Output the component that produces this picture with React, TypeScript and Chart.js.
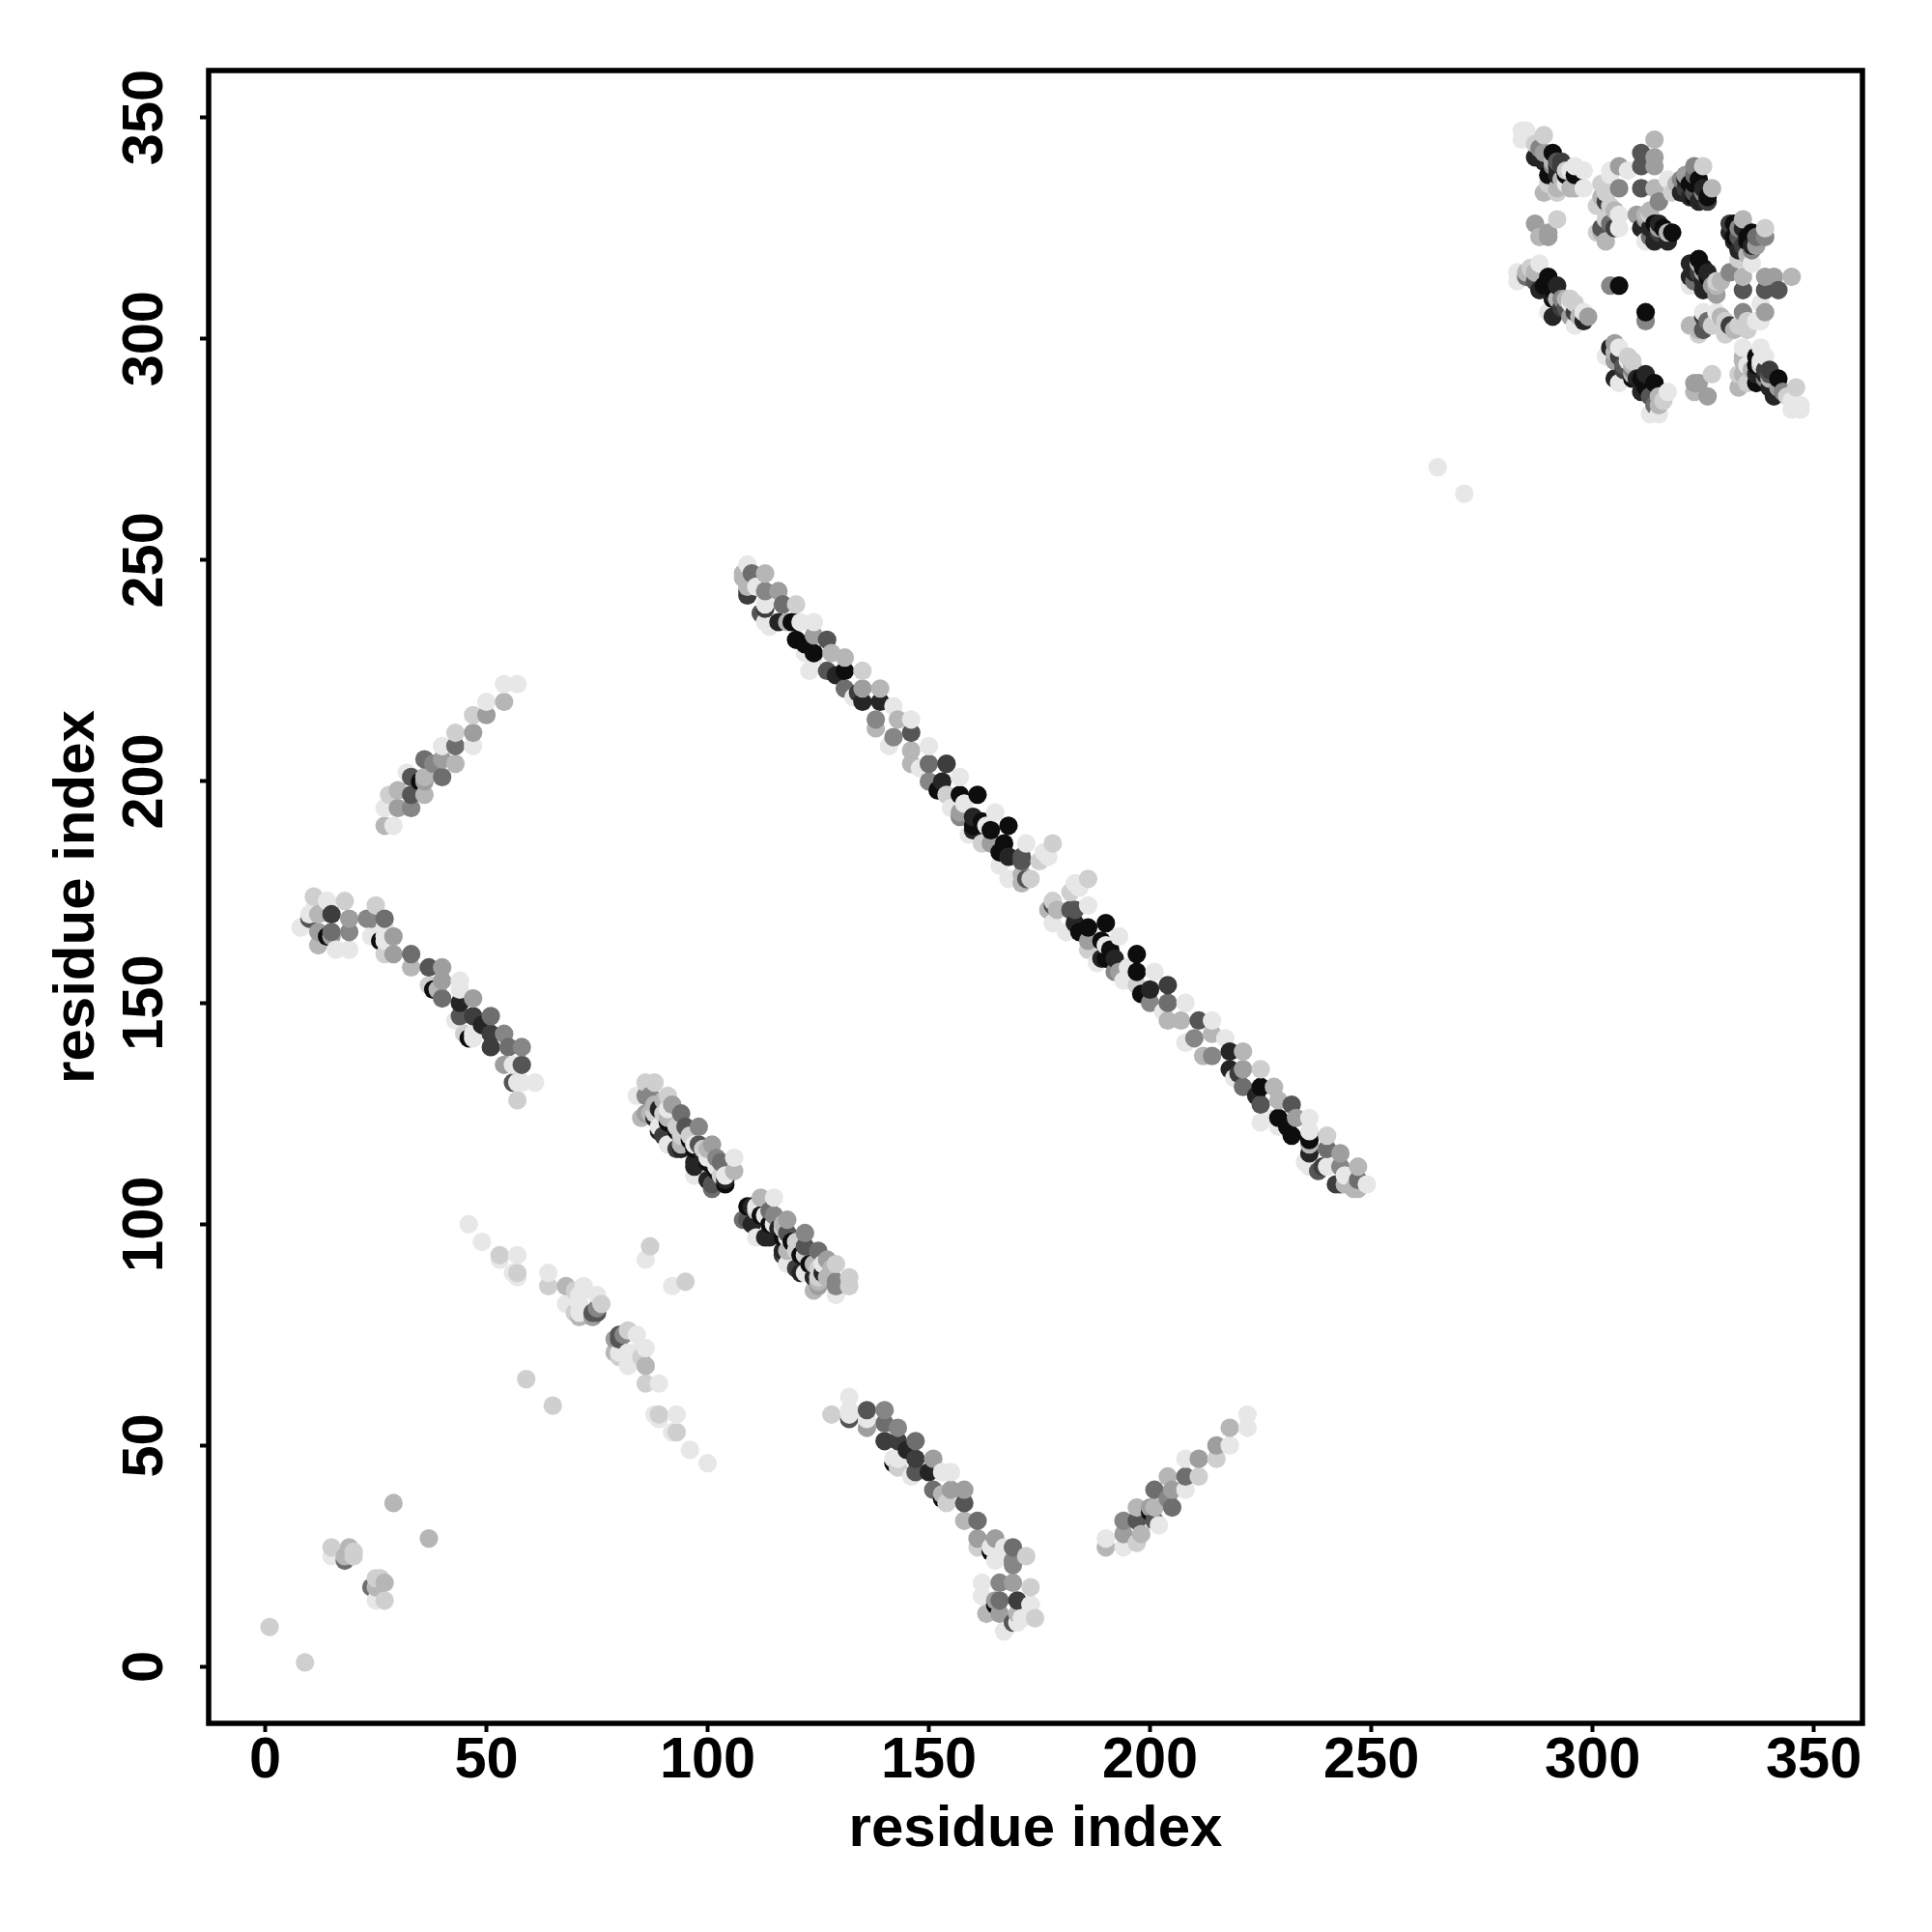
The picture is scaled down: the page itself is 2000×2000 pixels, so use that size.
import React, { useEffect, useRef } from "react";
import { Chart, registerables } from "chart.js";

Chart.register(...registerables);

// Each contact row: [residue a, residue b, contact level 1 (faint) .. 10 (strong)].
// The map is symmetric, so every pair is plotted at (a, b) and (b, a).
type Contact = [number, number, number];

const xTickValues = [0, 50, 100, 150, 200, 250, 300, 350];
const yTickValues = [0, 50, 100, 150, 200, 250, 300, 350];
const axisLabel = "residue index";

const sparseContacts: Contact[] = [
  [1, 9, 2], [29, 37, 3], [15, 27, 2], [15, 25, 1], [18, 24, 6], [18, 25, 3], [19, 27, 3], [20, 26, 2], [20, 25, 2],
  [59, 65, 2], [265, 271, 1], [87, 95, 2], [86, 92, 1],
];

const faintBand: Contact[] = [
  [46, 100, 1], [49, 96, 1], [53, 93, 2], [53, 92, 1], [57, 93, 1], [56, 89, 1], [57, 89, 2], [57, 88, 1],
  [64, 89, 1], [64, 86, 2], [68, 86, 3], [68, 82, 1], [72, 86, 1], [70, 85, 2], [71, 84, 1], [70, 80, 2],
  [71, 80, 1], [71, 82, 1], [75, 84, 1], [74, 80, 7], [75, 81, 5], [79, 74, 4], [79, 71, 3], [75, 80, 7], [76, 82, 2],
];

const upperStrip: Contact[] = [
  [54, 222, 1], [57, 222, 1], [50, 218, 1], [54, 218, 3], [47, 215, 2], [50, 215, 4], [43, 211, 2], [47, 211, 4],
  [47, 208, 1], [40, 208, 1], [43, 208, 6], [36, 205, 6], [38, 204, 5], [40, 205, 4], [43, 204, 3], [40, 201, 6], [36, 201, 3],
  [32, 202, 1], [33, 201, 7], [35, 200, 10], [36, 197, 3], [33, 197, 7], [30, 198, 3], [28, 197, 2], [33, 194, 5], [30, 194, 4],
  [27, 194, 1], [27, 190, 3], [29, 190, 1], [36, 200, 4],
];

const lowerStrip: Contact[] = [
  [11, 174, 2], [14, 173, 1], [18, 173, 2], [8, 167, 1], [10, 170, 1], [12, 170, 3], [15, 170, 8], [19, 169, 4],
  [12, 166, 4], [15, 166, 6], [19, 166, 5], [12, 163, 3], [16, 162, 1], [19, 162, 1], [10, 169, 7], [14, 165, 10],
  [23, 169, 5], [25, 172, 2], [27, 169, 6], [24, 165, 1], [24, 169, 5], [26, 164, 10], [27, 167, 1], [29, 165, 4], [27, 161, 2],
  [29, 161, 4], [33, 161, 6], [33, 158, 3], [37, 158, 7], [40, 158, 4], [37, 154, 2], [40, 155, 4], [40, 151, 6], [38, 153, 10],
  [44, 155, 1], [44, 153, 1], [44, 150, 9], [47, 151, 4], [43, 146, 1], [44, 147, 7], [47, 147, 8], [51, 147, 6],
  [47, 143, 1], [46, 142, 10], [51, 143, 8], [54, 143, 5], [51, 140, 8], [55, 140, 6], [58, 140, 5], [54, 136, 4],
  [56, 136, 1], [58, 136, 7], [57, 132, 1], [57, 128, 2], [58, 132, 1], [61, 132, 1], [56, 132, 7], [14, 173, 1], [11, 171, 1],
  [15, 165, 4], [27, 164, 1], [47, 142, 1], [39, 153, 3], [27, 165, 1], [45, 143, 2], [49, 145, 9],
];

const middleBand: Contact[] = [
  [86, 132, 2], [88, 132, 2], [84, 129, 1], [86, 129, 5], [91, 129, 2], [87, 129, 5], [86, 125, 4], [85, 124, 3], [91, 126, 1], [94, 125, 6],
  [87, 125, 3], [88, 124, 9], [95, 122, 7], [98, 122, 5], [89, 121, 9], [93, 121, 10], [91, 118, 1], [93, 117, 8], [94, 117, 9],
  [97, 117, 10], [101, 118, 4], [97, 114, 9], [100, 114, 10], [102, 115, 5], [106, 115, 1], [103, 114, 6], [106, 112, 3], [104, 110, 9],
  [101, 108, 6], [97, 111, 1], [100, 110, 9], [102, 112, 10], [104, 109, 10], [101, 109, 7], [97, 113, 9], [90, 120, 8], [89, 126, 9], [91, 123, 10],
  [90, 128, 3], [96, 119, 10], [99, 116, 9], [92, 127, 4], [98, 118, 7], [88, 127, 3], [90, 125, 2], [94, 120, 2], [100, 117, 3], [103, 111, 2],
  [89, 122, 1], [91, 124, 3], [93, 122, 2], [96, 120, 2], [97, 118, 1], [99, 117, 2], [100, 115, 1], [102, 113, 1], [104, 111, 1], [88, 125, 2], [94, 118, 3],
];

const mainBand: Contact[] = [
  [109, 249, 1], [110, 247, 6], [113, 247, 3], [108, 246, 3], [109, 244, 3], [109, 242, 8], [113, 243, 5], [116, 243, 4], [117, 240, 6],
  [120, 240, 2], [113, 240, 1], [112, 238, 7], [113, 236, 1], [116, 236, 9], [118, 236, 3], [119, 236, 10], [121, 236, 1], [124, 236, 1],
  [124, 233, 4], [127, 232, 7], [120, 232, 10], [122, 231, 10], [128, 229, 3], [131, 228, 3], [124, 229, 10], [123, 225, 1], [127, 225, 7],
  [131, 225, 10], [135, 225, 2], [131, 221, 6], [135, 221, 4], [139, 221, 3], [135, 218, 9], [139, 218, 9], [142, 217, 1], [138, 214, 5],
  [143, 214, 3], [146, 214, 1], [146, 211, 7], [142, 210, 5], [146, 207, 3], [146, 204, 3], [150, 208, 1], [150, 204, 6], [154, 204, 8],
  [150, 200, 5], [153, 200, 9], [157, 201, 1], [157, 197, 10], [161, 197, 10], [154, 197, 2], [157, 193, 4], [160, 192, 9], [165, 193, 1],
  [160, 190, 10], [164, 189, 10], [168, 190, 10], [164, 186, 4], [167, 186, 10], [172, 186, 1], [168, 183, 9], [171, 182, 7], [175, 182, 2],
  [177, 183, 1], [178, 186, 2], [168, 178, 1], [172, 178, 7], [171, 177, 3], [171, 179, 3], [171, 183, 7], [157, 192, 5], [160, 189, 9],
  [113, 239, 8], [109, 243, 8], [108, 247, 3], [120, 236, 10], [176, 184, 1], [173, 178, 2],
  [111, 244, 1], [114, 235, 1], [122, 229, 1], [124, 228, 1], [133, 219, 1], [138, 212, 3], [141, 208, 1], [148, 203, 1], [155, 194, 1],
  [159, 188, 1], [162, 186, 2], [166, 181, 1], [158, 195, 1], [163, 190, 1], [129, 224, 9], [134, 220, 8], [152, 198, 10], [162, 191, 10], [166, 184, 10],
];

const topStripA: Contact[] = [
  [284, 347, 1], [285, 347, 1], [284, 345, 1], [286, 345, 1], [289, 346, 2], [287, 344, 2], [287, 341, 9], [291, 342, 10], [289, 340, 9],
  [292, 340, 7], [291, 339, 5], [293, 339, 8], [296, 339, 1], [294, 338, 2], [290, 337, 10], [292, 337, 9], [296, 337, 10], [290, 335, 2],
  [292, 334, 3], [289, 333, 3], [294, 335, 1], [296, 334, 3], [298, 334, 1], [298, 338, 1], [293, 340, 8], [295, 334, 3], [292, 333, 2],
  [288, 343, 5], [291, 340, 3], [292, 339, 9], [294, 337, 10], [295, 338, 1], [293, 336, 3], [289, 342, 4],
];

const topStripB: Contact[] = [
  [283, 315, 1], [283, 313, 1], [286, 316, 2], [288, 317, 1], [287, 313, 7], [290, 314, 10], [292, 312, 9], [288, 311, 9], [291, 309, 10],
  [294, 309, 3], [295, 309, 2], [290, 306, 1], [291, 305, 9], [295, 305, 4], [298, 306, 1], [299, 305, 4], [296, 303, 1], [298, 304, 9],
  [295, 308, 1], [291, 310, 9], [285, 315, 3], [285, 314, 6], [293, 307, 8], [296, 306, 8],
  [287, 315, 3], [289, 312, 10], [291, 311, 10], [293, 309, 5], [294, 307, 7], [297, 305, 3], [296, 308, 2], [292, 309, 3],
];

const topStripC: Contact[] = [
  [310, 328, 4], [312, 328, 3], [315, 326, 9], [318, 324, 10], [315, 324, 8], [313, 325, 9], [311, 325, 9], [312, 322, 1], [314, 322, 9],
  [317, 322, 9], [315, 325, 4], [315, 323, 9], [313, 328, 2], [312, 327, 4], [314, 326, 10], [316, 325, 10], [317, 324, 3], [313, 323, 6],
];

const topStripD: Contact[] = [
  [323, 339, 5], [325, 339, 2], [320, 336, 5], [317, 336, 1], [321, 336, 9], [324, 336, 10], [318, 333, 2], [320, 333, 9], [323, 333, 7],
  [327, 334, 3], [324, 331, 9], [323, 332, 10], [326, 331, 8], [321, 337, 4], [323, 335, 10], [322, 332, 9],
  [322, 335, 10], [325, 334, 9], [323, 337, 6], [326, 332, 10], [321, 334, 8], [325, 333, 5], [319, 335, 3],
];

const topScatter: Contact[] = [
  [314, 345, 3], [311, 342, 7], [314, 341, 4], [314, 339, 4], [311, 339, 7], [306, 339, 4], [304, 338, 1], [308, 338, 1], [306, 334, 5],
  [311, 334, 7], [314, 334, 3], [315, 331, 5], [313, 329, 3], [302, 335, 2], [303, 333, 2], [302, 332, 3], [301, 330, 2], [305, 329, 3],
  [303, 331, 8], [306, 328, 1], [303, 327, 2], [302, 325, 7], [305, 325, 8], [302, 324, 3], [303, 322, 3], [292, 327, 2], [287, 326, 4],
  [290, 324, 4], [288, 323, 3], [290, 323, 4], [306, 325, 1], [301, 324, 2], [304, 326, 6], [304, 330, 2], [304, 335, 2], [304, 337, 1],
  [304, 312, 5], [306, 312, 10],
];

const contactGroups = [
  sparseContacts, faintBand, upperStrip, lowerStrip, middleBand, mainBand,
  topStripA, topStripB, topStripC, topStripD, topScatter,
];

const levelColor = (level: number) => {
  const g = Math.round(255 * (1 - 0.095 * level));
  return `rgb(${g},${g},${g})`;
};

// Paint order of the original: ascending x, then ascending y.
const points = contactGroups
  .flat()
  .flatMap(([a, b, level]) => [
    { x: a, y: b, level },
    { x: b, y: a, level },
  ])
  .sort((p, q) => p.x - q.x || p.y - q.y);

const FONT = '"Liberation Sans", Arial, sans-serif';

const framePlugin = {
  id: "frame",
  afterDraw(chart: any) {
    const { ctx, chartArea: c } = chart;
    ctx.save();
    ctx.strokeStyle = "#000";
    ctx.lineWidth = 5.5;
    ctx.strokeRect(c.left, c.top, c.right - c.left, c.bottom - c.top);
    ctx.restore();
  },
};

export default function App() {
  const ref = useRef<HTMLCanvasElement>(null);
  useEffect(() => {
    const chart = new Chart(ref.current!, {
      type: "scatter",
      data: {
        datasets: [
          {
            data: points,
            pointRadius: 9.6,
            pointHoverRadius: 9.6,
            pointBorderWidth: 0,
            pointBackgroundColor: points.map((p) => levelColor(p.level)),
          },
        ],
      },
      plugins: [framePlugin],
      options: {
        responsive: false,
        animation: false,
        devicePixelRatio: 1,
        layout: { padding: { top: 73, right: 72, left: 0, bottom: 0 } },
        plugins: { legend: { display: false }, tooltip: { enabled: false } },
        scales: {
          x: {
            type: "linear",
            min: -12.77,
            max: 361,
            afterFit: (s: any) => { s.height = 216; },
            afterBuildTicks: (s: any) => { s.ticks = xTickValues.map((value) => ({ value })); },
            border: { display: false },
            grid: { drawOnChartArea: false, drawTicks: true, tickLength: 9, tickWidth: 4, color: "#000" },
            ticks: { autoSkip: false, maxRotation: 0, padding: -5, color: "#000", font: { family: FONT, weight: "bold", size: 59.5 } },
            title: { display: true, text: axisLabel, color: "#000", font: { family: FONT, weight: "bold", size: 60 }, padding: { top: 0, bottom: 70 } },
          },
          y: {
            type: "linear",
            min: -12.76,
            max: 360.6,
            afterFit: (s: any) => { s.width = 216; },
            afterBuildTicks: (s: any) => { s.ticks = yTickValues.map((value) => ({ value })); },
            border: { display: false },
            grid: { drawOnChartArea: false, drawTicks: true, tickLength: 9, tickWidth: 4, color: "#000" },
            ticks: { autoSkip: false, minRotation: 90, maxRotation: 90, crossAlign: "center", padding: 6, color: "#000", font: { family: FONT, weight: "bold", size: 59.5 } },
            title: { display: true, text: axisLabel, color: "#000", font: { family: FONT, weight: "bold", size: 60 }, padding: { top: 44, bottom: 0 } },
          },
        },
      },
    } as any);
    return () => chart.destroy();
  }, []);
  return (
    <div style={{ position: "absolute", left: 0, top: 0, width: 2000, height: 2000, background: "#fff" }}>
      <canvas ref={ref} width={2000} height={2000} style={{ display: "block" }} />
    </div>
  );
}
